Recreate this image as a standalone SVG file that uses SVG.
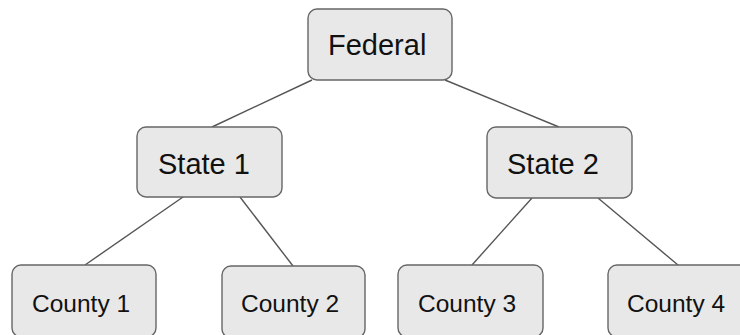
<svg xmlns="http://www.w3.org/2000/svg" width="740" height="335" viewBox="0 0 740 335">
<style>
.box{fill:#e8e8e8;stroke:#666;stroke-width:1.4}
.lbl{font-family:"Liberation Sans",Arial,sans-serif;fill:#111}
.big{font-size:29px}
.sm{font-size:24.5px}
.con{stroke:#555;stroke-width:1.4;fill:none}
</style>
<rect width="740" height="335" fill="#fff"/>
<g id="connectors">
<line class="con" x1="312" y1="80" x2="212" y2="127"/>
<line class="con" x1="445" y1="80" x2="559" y2="127"/>
<line class="con" x1="183" y1="197" x2="85" y2="265"/>
<line class="con" x1="240" y1="197" x2="293" y2="266"/>
<line class="con" x1="532" y1="198" x2="472" y2="265"/>
<line class="con" x1="598" y1="198" x2="678" y2="265"/>
</g>
<g id="federal"><rect class="box" x="308" y="9" width="144" height="71" rx="9"/><text class="lbl big" x="328" y="55">Federal</text></g>
<g id="state1"><rect class="box" x="137" y="127" width="145" height="70" rx="9"/><text class="lbl big" x="158" y="174">State 1</text></g>
<g id="state2"><rect class="box" x="487" y="127" width="145" height="71" rx="9"/><text class="lbl big" x="507" y="174">State 2</text></g>
<g id="county1"><rect class="box" x="12" y="265" width="144" height="72" rx="9"/><text class="lbl sm" x="32" y="312">County 1</text></g>
<g id="county2"><rect class="box" x="222" y="266" width="143" height="72" rx="9"/><text class="lbl sm" x="241" y="312">County 2</text></g>
<g id="county3"><rect class="box" x="398" y="265" width="145" height="72" rx="9"/><text class="lbl sm" x="418" y="312">County 3</text></g>
<g id="county4"><rect class="box" x="608" y="265" width="145" height="72" rx="9"/><text class="lbl sm" x="627" y="312">County 4</text></g>
</svg>
